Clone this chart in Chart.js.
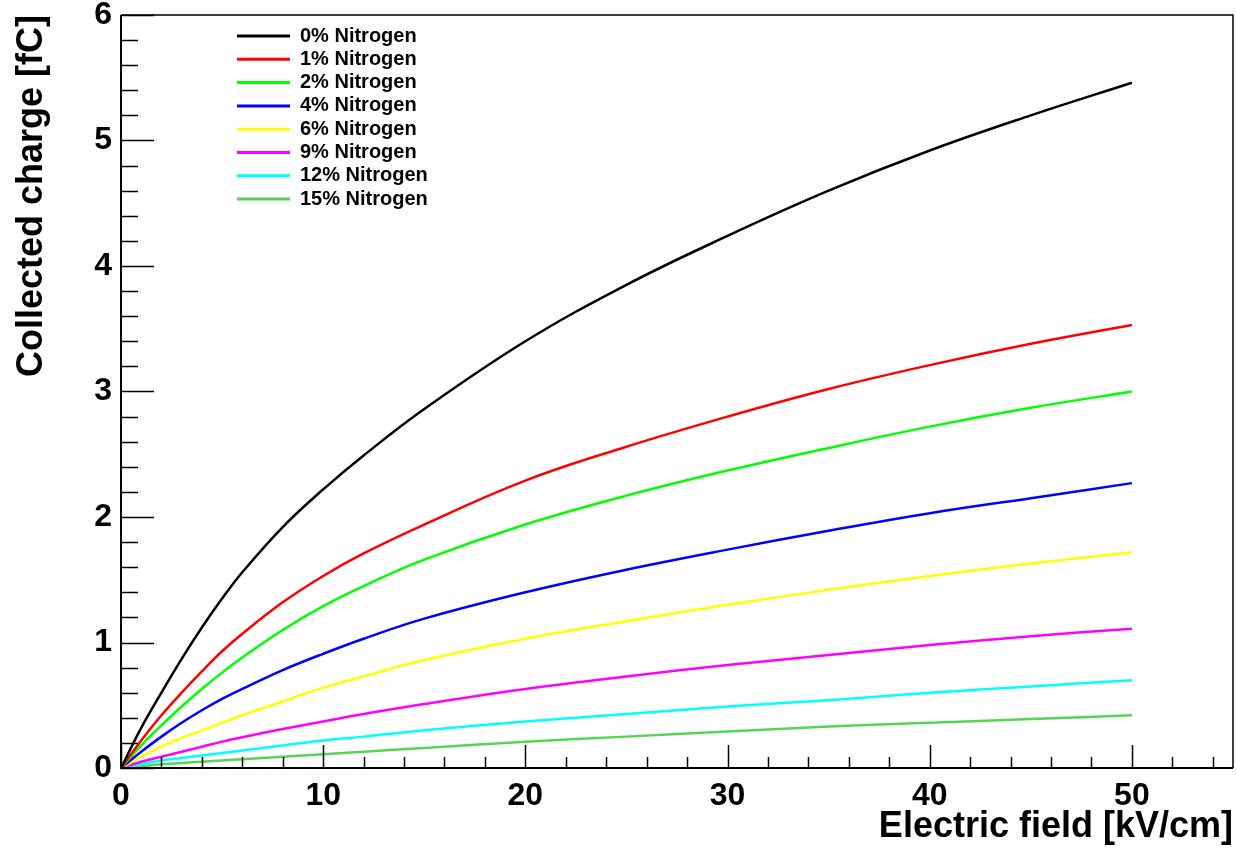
<!DOCTYPE html>
<html>
<head>
<meta charset="utf-8">
<script src="https://cdn.jsdelivr.net/npm/chart.js@4.4.1/dist/chart.umd.min.js"></script>
<style>
  html, body { margin: 0; padding: 0; background: #fff; }
  #wrap { width: 1237px; height: 850px; }
</style>
</head>
<body>
<div id="wrap"><canvas id="chart" width="1237" height="850"></canvas></div>
<script>
const fieldValues = [0, 1, 2, 3, 4, 5, 6, 8, 10, 12, 15, 20, 25, 30, 35, 40, 45, 50];

// collected charge (fC) per nitrogen fraction
const charge0  = [0, 0.32, 0.60, 0.87, 1.12, 1.35, 1.56, 1.92, 2.22, 2.49, 2.86, 3.40, 3.85, 4.24, 4.60, 4.92, 5.20, 5.46];
const charge1  = [0, 0.22, 0.42, 0.60, 0.77, 0.93, 1.07, 1.32, 1.53, 1.71, 1.94, 2.29, 2.56, 2.80, 3.02, 3.21, 3.38, 3.53];
const charge2  = [0, 0.18, 0.34, 0.49, 0.63, 0.76, 0.88, 1.10, 1.29, 1.45, 1.66, 1.94, 2.17, 2.37, 2.55, 2.72, 2.87, 3.00];
const charge4  = [0, 0.13, 0.25, 0.36, 0.46, 0.55, 0.63, 0.78, 0.91, 1.03, 1.19, 1.40, 1.58, 1.74, 1.89, 2.03, 2.15, 2.27];
const charge6  = [0, 0.09, 0.17, 0.24, 0.30, 0.36, 0.42, 0.53, 0.64, 0.73, 0.86, 1.03, 1.17, 1.30, 1.42, 1.53, 1.63, 1.72];
const charge9  = [0, 0.05, 0.09, 0.13, 0.17, 0.21, 0.245, 0.31, 0.37, 0.43, 0.51, 0.63, 0.73, 0.82, 0.90, 0.98, 1.05, 1.11];
const charge12 = [0, 0.03, 0.06, 0.08, 0.10, 0.12, 0.14, 0.18, 0.22, 0.25, 0.30, 0.37, 0.43, 0.49, 0.54, 0.60, 0.65, 0.70];
const charge15 = [0, 0.015, 0.03, 0.04, 0.05, 0.06, 0.07, 0.09, 0.11, 0.13, 0.16, 0.21, 0.25, 0.29, 0.33, 0.36, 0.39, 0.42];

const seriesLabels = ['0% Nitrogen', '1% Nitrogen', '2% Nitrogen', '4% Nitrogen',
                      '6% Nitrogen', '9% Nitrogen', '12% Nitrogen', '15% Nitrogen'];
const seriesValues = [charge0, charge1, charge2, charge4, charge6, charge9, charge12, charge15];
const seriesColors = ['#000000', '#ff0000', '#00ff00', '#0000ff',
                      '#ffff00', '#ff00ff', '#00ffff', '#59d354'];

// axis ticks
const xTickLabels = [0, 10, 20, 30, 40, 50];
const yTickLabels = [0, 1, 2, 3, 4, 5, 6];

const FONT = '"Liberation Sans", Arial, Helvetica, sans-serif';

const datasets = seriesValues.map((vals, i) => ({
    label: seriesLabels[i],
    data: vals.map((v, j) => ({ x: fieldValues[j], y: v })),
    borderColor: seriesColors[i],
    backgroundColor: seriesColors[i],
    borderWidth: 2.5,
    pointRadius: 0,
    tension: 0.4,
    fill: false
}));

// ROOT style frame with inward ticks
const frameTicks = {
    id: 'frameTicks',
    afterDraw(chart) {
        const ctx = chart.ctx;
        const area = chart.chartArea;
        const xs = chart.scales.x;
        const ys = chart.scales.y;
        ctx.save();
        ctx.strokeStyle = '#000';

        ctx.lineWidth = 1.5;
        ctx.beginPath();
        ctx.moveTo(area.left, area.top);
        ctx.lineTo(area.right, area.top);
        ctx.lineTo(area.right, area.bottom);
        ctx.stroke();

        ctx.lineWidth = 2;
        ctx.beginPath();
        ctx.moveTo(area.left, area.top);
        ctx.lineTo(area.left, area.bottom);
        ctx.lineTo(area.right, area.bottom);
        ctx.stroke();

        ctx.lineWidth = 1.5;
        ctx.beginPath();
        for (let v = 0; v <= 6.0001; v += 0.2) {
            const y = Math.round(ys.getPixelForValue(v)) + 0.5;
            const major = Math.abs(v - Math.round(v)) < 1e-6;
            ctx.moveTo(area.left, y);
            ctx.lineTo(area.left + (major ? 33 : 17), y);
        }
        for (let v = 0; v <= 55; v += 2) {
            const x = Math.round(xs.getPixelForValue(v)) + 0.5;
            const major = v % 10 === 0;
            ctx.moveTo(x, area.bottom);
            ctx.lineTo(x, area.bottom - (major ? 23 : 11));
        }
        ctx.stroke();
        ctx.restore();
    }
};

// legend inside the plot, no box
const innerLegend = {
    id: 'innerLegend',
    afterDraw(chart) {
        const ctx = chart.ctx;
        ctx.save();
        ctx.font = 'bold 20px ' + FONT;
        ctx.textBaseline = 'middle';
        ctx.textAlign = 'left';
        chart.data.datasets.forEach((ds, i) => {
            const y = 36 + i * 23.3;
            ctx.strokeStyle = ds.borderColor;
            ctx.lineWidth = 3;
            ctx.beginPath();
            ctx.moveTo(237, y);
            ctx.lineTo(290, y);
            ctx.stroke();
            ctx.fillStyle = '#000';
            ctx.fillText(ds.label, 300, y);
        });
        ctx.restore();
    }
};

new Chart(document.getElementById('chart'), {
    type: 'line',
    data: { datasets },
    options: {
        responsive: false,
        animation: false,
        layout: { autoPadding: false, padding: { top: 15, right: 4, left: 0, bottom: 0 } },
        plugins: { legend: { display: false }, tooltip: { enabled: false } },
        scales: {
            x: {
                type: 'linear',
                min: 0,
                max: 55,
                afterBuildTicks: s => { s.ticks = xTickLabels.map(v => ({ value: v })); },
                afterFit: s => { s.height = 82; },
                grid: { display: false, drawTicks: false },
                border: { display: false },
                ticks: {
                    color: '#000',
                    padding: 9,
                    maxRotation: 0,
                    autoSkip: false,
                    font: { family: FONT, size: 32, weight: 'bold' }
                },
                title: {
                    display: true,
                    text: 'Electric field [kV/cm]',
                    align: 'end',
                    color: '#000',
                    padding: { top: 0, bottom: 1 },
                    font: { family: FONT, size: 36, weight: 'bold' }
                }
            },
            y: {
                type: 'linear',
                min: 0,
                max: 6,
                afterBuildTicks: s => { s.ticks = yTickLabels.map(v => ({ value: v })); },
                afterFit: s => { s.width = 121; },
                grid: { display: false, drawTicks: false },
                border: { display: false },
                ticks: {
                    color: '#000',
                    padding: 9,
                    autoSkip: false,
                    // small lineHeight keeps the top label from pushing the plot down
                    font: { family: FONT, size: 32, weight: 'bold', lineHeight: 0.3 }
                },
                title: {
                    display: true,
                    text: 'Collected charge [fC]',
                    align: 'end',
                    color: '#000',
                    padding: { top: 10, bottom: 0 },
                    font: { family: FONT, size: 36, weight: 'bold' }
                }
            }
        }
    },
    plugins: [frameTicks, innerLegend]
});
</script>
</body>
</html>
